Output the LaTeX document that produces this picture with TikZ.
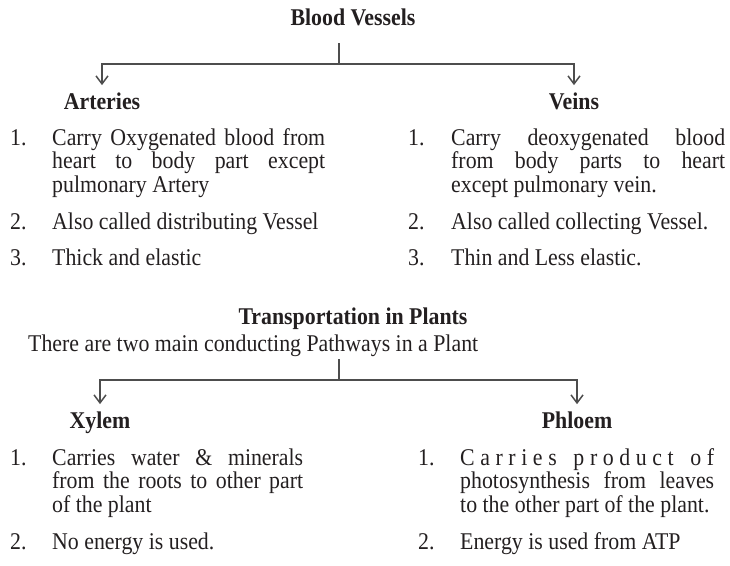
\documentclass[tikz,border=0pt]{standalone}
\usepackage{fontspec}
\setmainfont[FakeStretch=0.91]{Liberation Serif}
\usetikzlibrary{arrows.meta}
\definecolor{ink}{HTML}{231F20}
\definecolor{wire}{HTML}{4D4D4D}

\begin{document}
\begin{tikzpicture}[x=1pt, y=-1pt,
    every node/.style={inner sep=0pt, text=ink, font=\fontsize{24}{23.5}\selectfont},
    title/.style={font=\fontsize{24}{24}\selectfont\bfseries, anchor=base},
    num/.style={anchor=base west},
    item/.style={anchor=base west, align=justify},
    stem/.style={draw=wire, line width=1.5pt},
    branch/.style={stem, -{Straight Barb[length=8pt,width=12pt,line width=1.5pt]}, shorten >=7pt}
]
\useasboundingbox (0,0) rectangle (730,565);

% blood vessels
\node[title] (bv) at (353,25) {Blood Vessels};
\node[title] (art) at (102,109) {Arteries};
\node[title] (vein) at (574,109) {Veins};
\coordinate (bvtop) at (339,43);
\coordinate (bvjoin) at (339,64);
\draw[stem] (bvtop) -- (bvjoin);
\draw[branch] (bvjoin) -| (art);
\draw[branch] (bvjoin) -| (vein);

\node[num] (a1n) at (10,145) {1.};
\node[item, text width=273pt] (a1) at (52,145)
    {Carry Oxygenated blood from\linebreak heart to body part except\linebreak pulmonary Artery};
\node[num] (a2n) at (10,229) {2.};
\node[item, text width=273pt] (a2) at (52,229) {Also called distributing Vessel};
\node[num] (a3n) at (10,265) {3.};
\node[item, text width=273pt] (a3) at (52,265) {Thick and elastic};

\node[num] (v1n) at (408,145) {1.};
\node[item, text width=274pt] (v1) at (451,145)
    {Carry deoxygenated blood\linebreak from body parts to heart\linebreak except pulmonary vein.};
\node[num] (v2n) at (408,229) {2.};
\node[item, text width=274pt] (v2) at (451,229) {Also called collecting Vessel.};
\node[num] (v3n) at (408,265) {3.};
\node[item, text width=274pt] (v3) at (451,265) {Thin and Less elastic.};

% transport in plants
\node[title] (tp) at (353,324) {Transportation in Plants};
\node[anchor=base west] (two) at (28,351) {There are two main conducting Pathways in a Plant};
\node[title] (xyl) at (100,428) {Xylem};
\node[title] (phl) at (577,428) {Phloem};
\coordinate (tptop) at (339,359);
\coordinate (tpjoin) at (339,380);
\draw[stem] (tptop) -- (tpjoin);
\draw[branch] (tpjoin) -| (xyl);
\draw[branch] (tpjoin) -| (phl);

\node[num] (x1n) at (10,465) {1.};
\node[item, text width=251pt] (x1) at (52,465)
    {Carries water \& minerals\linebreak from the roots to other part\linebreak of the plant};
\node[num] (x2n) at (10,549) {2.};
\node[item, text width=251pt] (x2) at (52,549) {No energy is used.};

\node[num] (p1n) at (418,465) {1.};
\node[item, text width=254pt] (p1) at (460,465)
    {C\hfill a\hfill r\hfill r\hfill i\hfill e\hfill s\hfill\hfill\hfill p\hfill r\hfill o\hfill d\hfill u\hfill c\hfill t\hfill\hfill\hfill o\hfill f\linebreak
     photosynthesis from leaves\linebreak to the other part of the plant.};
\node[num] (p2n) at (418,549) {2.};
\node[item, text width=254pt] (p2) at (460,549) {Energy is used from ATP};
\end{tikzpicture}
\end{document}
